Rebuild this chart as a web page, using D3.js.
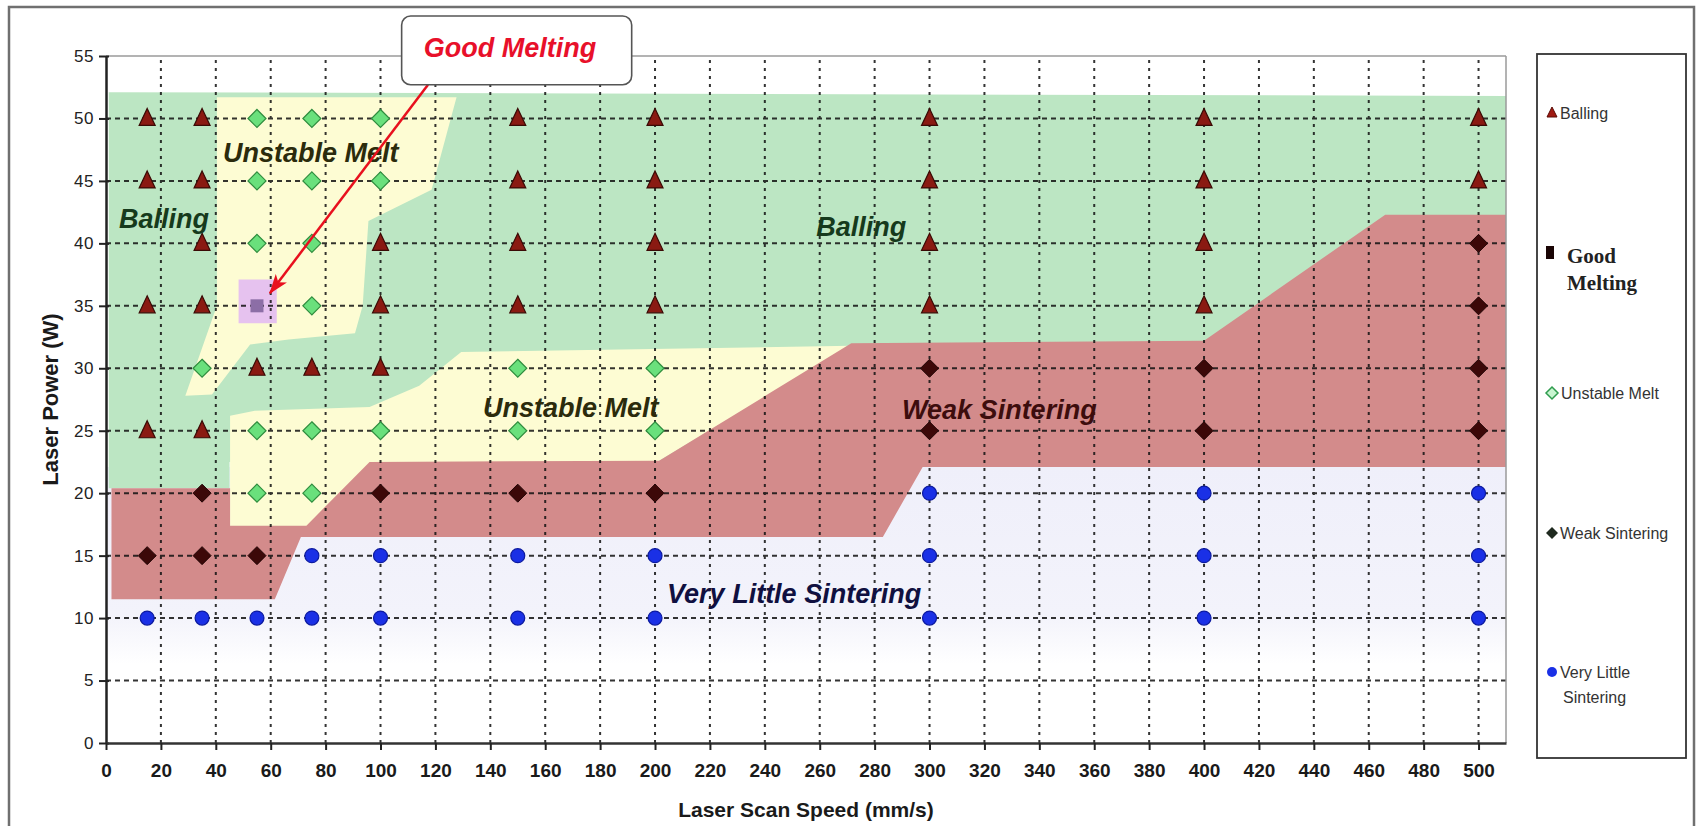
<!DOCTYPE html>
<html><head><meta charset="utf-8">
<script src="https://cdn.jsdelivr.net/npm/d3@7"></script>
<style>body{margin:0;background:#fff;} svg{display:block;}</style>
</head><body>
<svg id="chart" width="1696" height="826"></svg>
<script>
// ---------- DATA ----------
const xTickValues = d3.range(0, 501, 20);
const yTickValues = d3.range(0, 56, 5);
const xGridValues = d3.range(20, 501, 20);
const yGridValues = d3.range(5, 51, 5);

const ballingPts = [[15,50],[15,45],[15,35],[15,25],[35,50],[35,45],[35,40],[35,35],[35,25],
  [55,30],[75,30],[100,40],[100,35],[100,30],[150,50],[150,45],[150,40],[150,35],
  [200,50],[200,45],[200,40],[200,35],[300,50],[300,45],[300,40],[300,35],
  [400,50],[400,45],[400,40],[400,35],[500,50],[500,45]];
const goodMeltingPts = [[55,35]];
const unstableMeltPts = [[35,30],[55,50],[55,45],[55,40],[55,25],[55,20],[75,50],[75,45],[75,40],[75,35],
  [75,25],[75,20],[100,50],[100,45],[100,25],[150,30],[150,25],[200,30],[200,25]];
const weakSinteringPts = [[15,15],[35,20],[35,15],[55,15],[100,20],[150,20],[200,20],
  [300,30],[300,25],[400,30],[400,25],[500,40],[500,35],[500,30],[500,25]];
const veryLittlePts = [[15,10],[35,10],[55,10],[75,15],[75,10],[100,15],[100,10],[150,15],[150,10],
  [200,15],[200,10],[300,20],[300,15],[300,10],[400,20],[400,15],[400,10],[500,20],[500,15],[500,10]];

// region outlines (speed, power)
const regionVeryLittle = [[0,6.3],[510,6.3],[510,22.1],[0,22.1]];
const regionBalling = [[1,20.4],[45,20.4],[45,22.5],[510,22.5],[510,51.8],[1,52.1]];
const regionUnstableLow = [[45.2,17],[96,17],[201.5,22.6],[271.5,31.8],[129.4,31.3],[114.1,28.6],[96,26.9],[54.2,26.6],[45.2,26.2]];
const regionWeak = [[2,11.5],[61.5,11.5],[71,16.5],[283,16.5],[297.5,22.1],[510,22.1],[510,42.3],[466,42.3],
  [400,32.2],[271.5,32.0],[201.5,22.6],[96,22.5],[73,17.4],[45.2,17.4],[45.2,20.4],[2,20.4]];
const regionUnstableHigh = [[40.4,51.7],[127.7,51.7],[118.6,44.3],[95.6,41.8],[93.5,35],[90.7,32.8],
  [66.5,32.3],[52.5,31.9],[38.6,27.9],[28.9,27.8],[40.4,35]];
const regionGood = [[48.3,33.6],[62.2,33.6],[62.2,37.1],[48.3,37.1]];

const regionLabels = [
  {text:"Unstable Melt", x:42.6, y:46.5, color:"#2b2b0c"},
  {text:"Balling", x:4.7, y:41.2, color:"#163a1c"},
  {text:"Balling", x:258.7, y:40.6, color:"#163a1c"},
  {text:"Unstable Melt", x:137.3, y:26.1, color:"#2b2b0c"},
  {text:"Weak Sintering", x:290, y:25.9, color:"#3d0d0d"},
  {text:"Very Little Sintering", x:204.4, y:11.2, color:"#101040"}
];
const calloutText = "Good Melting";
const calloutBox = {x0:107.7, x1:191.5, y0:58.2, y1:52.7};
const calloutTextPos = [147.2, 54.95];
const arrowFrom = [117.3, 52.7];
const arrowTo = [59.7, 36.0];

const legendItems = ["Balling", "Good Melting", "Unstable Melt", "Weak Sintering", "Very Little Sintering"];

// ---------- CHART ----------
const svg = d3.select("#chart");
const x = d3.scaleLinear().domain([0, 510]).range([106, 1506]);
const y = d3.scaleLinear().domain([0, 55]).range([743, 56]);
const poly = d3.line().x(d => x(d[0])).y(d => y(d[1]));

const defs = svg.append("defs");
const grad = defs.append("linearGradient").attr("id","lav").attr("x1",0).attr("x2",0).attr("y1",0).attr("y2",1);
grad.append("stop").attr("offset","0%").attr("stop-color","#efeffa");
grad.append("stop").attr("offset","75%").attr("stop-color","#f3f3fb");
grad.append("stop").attr("offset","100%").attr("stop-color","#ffffff");
defs.append("marker").attr("id","arrowhead").attr("viewBox","0 0 20 14")
  .attr("refX",19).attr("refY",7).attr("markerWidth",20).attr("markerHeight",14)
  .attr("markerUnits","userSpaceOnUse").attr("orient","auto")
  .append("path").attr("d","M0,0 L20,7 L0,14 L5,7 Z").attr("fill","#e8101e");

// outer frame
svg.append("rect").attr("x",9).attr("y",7).attr("width",1685).attr("height",840)
  .attr("fill","none").attr("stroke","#707070").attr("stroke-width",2.5);

// regions
const regions = [
  {pts: regionVeryLittle, fill: "url(#lav)"},
  {pts: regionBalling, fill: "#bce6c3"},
  {pts: regionUnstableLow, fill: "#fdfcd3"},
  {pts: regionWeak, fill: "#d38b8b"},
  {pts: regionUnstableHigh, fill: "#fdfcd3"},
  {pts: regionGood, fill: "#e6c2ef"}
];
svg.append("g").selectAll("path").data(regions).join("path")
  .attr("d", d => poly(d.pts) + "Z").attr("fill", d => d.fill);

// grid
const grid = svg.append("g").attr("stroke","#111").attr("stroke-width",2).attr("opacity",0.85);
grid.selectAll("line.h").data(yGridValues).join("line").attr("class","h")
  .attr("x1", x(0)).attr("x2", x(510)).attr("y1", d => y(d)).attr("y2", d => y(d))
  .attr("stroke-dasharray","5,4");
grid.selectAll("line.v").data(xGridValues).join("line").attr("class","v")
  .attr("y1", y(0)).attr("y2", y(55)).attr("x1", d => x(d)).attr("x2", d => x(d))
  .attr("stroke-dasharray","3,5");

// plot border top & right
svg.append("line").attr("x1",x(0)).attr("x2",x(510)).attr("y1",y(55)).attr("y2",y(55)).attr("stroke","#9a9a9a").attr("stroke-width",1.5);
svg.append("line").attr("x1",x(510)).attr("x2",x(510)).attr("y1",y(55)).attr("y2",y(0)).attr("stroke","#9a9a9a").attr("stroke-width",1.5);

// axes
const yAxis = svg.append("g").attr("transform",`translate(${x(0)},0)`)
  .call(d3.axisLeft(y).tickValues(yTickValues).tickSize(6).tickPadding(8).tickSizeOuter(0));
yAxis.select(".domain").attr("stroke","#222").attr("stroke-width",2.5);
yAxis.selectAll(".tick line").attr("x2",-7).attr("x1",3).attr("stroke","#222").attr("stroke-width",2);
yAxis.selectAll(".tick text").attr("font-family","Liberation Sans, Arial, sans-serif").attr("font-size",17)
  .attr("fill","#222").attr("x",-12).attr("letter-spacing",0.5);

const xAxis = svg.append("g").attr("transform",`translate(0,${y(0)})`)
  .call(d3.axisBottom(x).tickValues(xTickValues).tickSize(7).tickPadding(14).tickSizeOuter(0));
xAxis.select(".domain").attr("stroke","#333").attr("stroke-width",2.5);
xAxis.selectAll(".tick line").attr("stroke","#222").attr("stroke-width",2);
xAxis.selectAll(".tick text").attr("font-family","Liberation Sans, Arial, sans-serif").attr("font-size",19)
  .attr("font-weight","bold").attr("fill","#1a1a1a");

// axis titles
svg.append("text").attr("x", (x(0)+x(510))/2).attr("y", 817).attr("text-anchor","middle")
  .attr("font-family","Liberation Sans, Arial, sans-serif").attr("font-size",21).attr("font-weight","bold")
  .attr("fill","#1a1a1a").text("Laser Scan Speed (mm/s)");
svg.append("text").attr("transform",`translate(58,${(y(0)+y(55))/2}) rotate(-90)`).attr("text-anchor","middle")
  .attr("font-family","Liberation Sans, Arial, sans-serif").attr("font-size",22).attr("font-weight","bold")
  .attr("fill","#1a1a1a").text("Laser Power (W)");

// markers
const triPath = "M0,-10 L8,7 L-8,7 Z";
const diaPath = "M0,-9 L9,0 L0,9 L-9,0 Z";
const markers = svg.append("g");
markers.selectAll("path.ball").data(ballingPts).join("path").attr("class","ball")
  .attr("d", triPath).attr("transform", d => `translate(${x(d[0])},${y(d[1])})`)
  .attr("fill","#8a1a12").attr("stroke","#3a0a05").attr("stroke-width",1.2);
markers.selectAll("path.um").data(unstableMeltPts).join("path").attr("class","um")
  .attr("d", diaPath).attr("transform", d => `translate(${x(d[0])},${y(d[1])})`)
  .attr("fill","#6ae07c").attr("stroke","#2f8c3e").attr("stroke-width",1.2);
markers.selectAll("path.ws").data(weakSinteringPts).join("path").attr("class","ws")
  .attr("d", diaPath).attr("transform", d => `translate(${x(d[0])},${y(d[1])})`)
  .attr("fill","#3c0808").attr("stroke","#200404").attr("stroke-width",1);
markers.selectAll("circle.vl").data(veryLittlePts).join("circle").attr("class","vl")
  .attr("cx", d => x(d[0])).attr("cy", d => y(d[1])).attr("r",7)
  .attr("fill","#1a30e6").attr("stroke","#0c1aa0").attr("stroke-width",1.2);
markers.selectAll("rect.gm").data(goodMeltingPts).join("rect").attr("class","gm")
  .attr("x", d => x(d[0]) - 6.5).attr("y", d => y(d[1]) - 6.5).attr("width",13).attr("height",13)
  .attr("fill","#8c6ea6");

// region labels
svg.append("g").selectAll("text").data(regionLabels).join("text")
  .attr("x", d => x(d.x)).attr("y", d => y(d.y))
  .attr("font-family","Liberation Sans, Arial, sans-serif").attr("font-size",27)
  .attr("font-weight","bold").attr("font-style","italic").attr("fill", d => d.color)
  .text(d => d.text);

// callout
svg.append("line").attr("x1", x(arrowFrom[0])).attr("y1", y(arrowFrom[1]))
  .attr("x2", x(arrowTo[0])).attr("y2", y(arrowTo[1]))
  .attr("stroke","#e8101e").attr("stroke-width",2.5).attr("marker-end","url(#arrowhead)");
svg.append("rect").attr("x", x(calloutBox.x0)).attr("y", y(calloutBox.y0))
  .attr("width", x(calloutBox.x1) - x(calloutBox.x0)).attr("height", y(calloutBox.y1) - y(calloutBox.y0))
  .attr("rx",9).attr("fill","#fff").attr("stroke","#555").attr("stroke-width",1.6);
svg.append("text").attr("x", x(calloutTextPos[0])).attr("y", y(calloutTextPos[1])).attr("text-anchor","middle")
  .attr("font-family","Liberation Sans, Arial, sans-serif").attr("font-size",27)
  .attr("font-weight","bold").attr("font-style","italic").attr("fill","#e8102a").text(calloutText);

// legend
const lg = svg.append("g");
lg.append("rect").attr("x",1537).attr("y",54).attr("width",149).attr("height",704)
  .attr("fill","#fff").attr("stroke","#333").attr("stroke-width",1.8);
const legY = [113, 253, 393, 533, 672];
const lfont = "Liberation Sans, Arial, sans-serif";
// Balling
lg.append("path").attr("d","M0,-6 L5,4 L-5,4 Z").attr("transform",`translate(1552,${legY[0]})`).attr("fill","#a01a12").attr("stroke","#5a0a05");
lg.append("text").attr("x",1560).attr("y",legY[0]+6).attr("font-family",lfont).attr("font-size",16).attr("fill","#333").text(legendItems[0]);
// Good Melting
lg.append("rect").attr("x",1546).attr("y",legY[1]-7).attr("width",8).attr("height",13).attr("fill","#1a0505");
lg.append("text").attr("x",1567).attr("y",legY[1]+10).attr("font-family","Liberation Serif, Times New Roman, serif")
  .attr("font-size",21).attr("font-weight","bold").attr("fill","#222").text("Good");
lg.append("text").attr("x",1567).attr("y",legY[1]+37).attr("font-family","Liberation Serif, Times New Roman, serif")
  .attr("font-size",21).attr("font-weight","bold").attr("fill","#222").text("Melting");
// Unstable Melt
lg.append("path").attr("d","M0,-6 L6,0 L0,6 L-6,0 Z").attr("transform",`translate(1552,${legY[2]})`).attr("fill","#c8f5d0").attr("stroke","#2f9c4e").attr("stroke-width",1.5);
lg.append("text").attr("x",1561).attr("y",legY[2]+6).attr("font-family",lfont).attr("font-size",16).attr("fill","#333").text(legendItems[2]);
// Weak Sintering
lg.append("path").attr("d","M0,-6 L6,0 L0,6 L-6,0 Z").attr("transform",`translate(1552,${legY[3]})`).attr("fill","#1f2a1f");
lg.append("text").attr("x",1560).attr("y",legY[3]+6).attr("font-family",lfont).attr("font-size",16).attr("fill","#333").text(legendItems[3]);
// Very Little Sintering
lg.append("circle").attr("cx",1552).attr("cy",legY[4]).attr("r",5).attr("fill","#1a30e6");
lg.append("text").attr("x",1560).attr("y",legY[4]+6).attr("font-family",lfont).attr("font-size",16).attr("fill","#333").text("Very Little");
lg.append("text").attr("x",1563).attr("y",legY[4]+31).attr("font-family",lfont).attr("font-size",16).attr("fill","#333").text("Sintering");
</script>
</body></html>
